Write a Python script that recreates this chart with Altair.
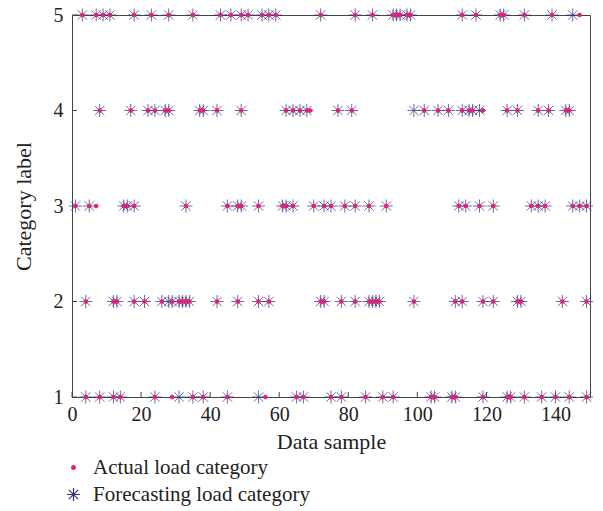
import altair as alt
import pandas as pd

# ---- data (sample index -> load category) ----
# samples where actual and forecast categories coincide
match_c5 = [3, 7, 9, 11, 18, 23, 28, 35, 43, 46, 49, 51, 55, 57, 59, 72, 82, 87,
            93, 94, 95, 97, 98, 113, 117, 124, 125, 131, 139]
match_c4 = [8, 17, 22, 24, 27, 28, 37, 38, 42, 49, 62, 64, 66, 68, 77, 81, 102,
            106, 109, 113, 115, 116, 126, 129, 135, 138, 143, 144]
match_c3 = [1, 5, 15, 16, 18, 33, 45, 48, 49, 54, 61, 62, 64, 70, 73, 75, 79, 82,
            86, 91, 112, 114, 118, 122, 133, 135, 137, 145, 147, 149]
match_c2 = [4, 12, 13, 18, 21, 26, 29, 31, 32, 33, 34, 42, 48, 54, 57, 72, 73, 78,
            82, 86, 87, 88, 89, 99, 111, 113, 119, 122, 129, 130, 142, 149]
match_c1 = [4, 8, 12, 14, 24, 35, 38, 45, 65, 67, 75, 78, 85, 90, 93, 104, 105,
            110, 111, 119, 126, 127, 131, 136, 140, 144, 149]

# samples where the two disagree
actual_only_x = [147, 69, 119, 7, 29, 56]
actual_only_cat = [5, 4, 4, 3, 1, 1]
forecast_only_x = [145, 99, 118, 28, 31, 54]
forecast_only_cat = [5, 4, 4, 2, 1, 1]

x_ticks = [0, 20, 40, 60, 80, 100, 120, 140]
y_ticks = [1, 2, 3, 4, 5]

series_names = ["Actual load category", "Forecasting load category"]

matches = {5: match_c5, 4: match_c4, 3: match_c3, 2: match_c2, 1: match_c1}

rows = []
# forecast first so the actual dots sit on top
for c, xs in matches.items():
    for x in xs:
        rows.append({"x": x, "y": c, "series": series_names[1]})
for x, c in zip(forecast_only_x, forecast_only_cat):
    rows.append({"x": x, "y": c, "series": series_names[1]})
for c, xs in matches.items():
    for x in xs:
        rows.append({"x": x, "y": c, "series": series_names[0]})
for x, c in zip(actual_only_x, actual_only_cat):
    rows.append({"x": x, "y": c, "series": series_names[0]})
df = pd.DataFrame(rows)
df["order"] = range(len(df))

FONT = "Liberation Serif"
PINK = "#e0227a"
NAVY = "#34347f"
STAR = "M-1,0L1,0M0,-1L0,1M-0.72,-0.72L0.72,0.72M-0.72,0.72L0.72,-0.72"

W, H = 518, 382

xscale = alt.Scale(domain=[0, 150], nice=False, zero=False)
yscale = alt.Scale(domain=[1, 5], nice=False, zero=False)

xaxis = alt.Axis(values=x_ticks, title="Data sample", tickSize=0, domain=False,
                 grid=False, labelFont=FONT, labelFontSize=20, labelColor="#222",
                 labelPadding=7, titleFont=FONT, titleFontSize=22,
                 titleFontWeight="normal", titleColor="#222", titlePadding=7,
                 labelFlush=False)
yaxis = alt.Axis(values=y_ticks, title="Category label", tickSize=0, domain=False,
                 grid=False, format="d", labelFont=FONT, labelFontSize=20,
                 labelColor="#222", labelPadding=9, titleFont=FONT,
                 titleFontSize=22, titleFontWeight="normal", titleColor="#222",
                 titlePadding=18)

leg = alt.Legend(title=None, orient="none", legendX=-9, legendY=442,
                 labelFont=FONT, labelFontSize=21, labelColor="#222",
                 labelLimit=0, labelOffset=9, rowPadding=5, padding=0,
                 symbolStrokeWidth=1.2)

points = alt.Chart(df).mark_point(strokeWidth=1, opacity=1, clip=False).encode(
    x=alt.X("x:Q", scale=xscale, axis=xaxis),
    y=alt.Y("y:Q", scale=yscale, axis=yaxis),
    shape=alt.Shape("series:N", scale=alt.Scale(domain=series_names, range=["circle", STAR]),
                    legend=leg),
    stroke=alt.Stroke("series:N", scale=alt.Scale(domain=series_names, range=[PINK, NAVY]),
                      legend=leg),
    fill=alt.Fill("series:N", scale=alt.Scale(domain=series_names, range=[PINK, "transparent"]),
                  legend=leg),
    size=alt.Size("series:N", scale=alt.Scale(domain=series_names, range=[14, 170]),
                  legend=leg),
    strokeOpacity=alt.StrokeOpacity("series:N",
                                    scale=alt.Scale(domain=series_names, range=[1, 0.72]),
                                    legend=None),
    order=alt.Order("order:Q"),
)

xtick_df = pd.DataFrame({"x": x_ticks})
ytick_df = pd.DataFrame({"y": y_ticks})

xticks = alt.Chart(xtick_df).mark_rule(color="#444", strokeWidth=1).encode(
    x=alt.X("x:Q", scale=xscale, axis=xaxis),
    y=alt.value(H), y2=alt.value(H - 5),
)
yticks = alt.Chart(ytick_df).mark_rule(color="#444", strokeWidth=1).encode(
    y=alt.Y("y:Q", scale=yscale, axis=yaxis),
    x=alt.value(0), x2=alt.value(5),
)

chart = alt.layer(xticks, yticks, points).properties(
    width=W, height=H,
    autosize=alt.AutoSizeParams(type="none"),
    padding={"left": 72, "top": 15, "right": 13, "bottom": 114},
    background="white",
).configure(
    font=FONT
).configure_view(
    stroke="#444", strokeWidth=1
).configure_legend(
    labelFont=FONT, labelFontSize=21, labelColor="#222", labelLimit=0
)

chart.save("out.html", embed_options={"renderer": "svg", "actions": False})
